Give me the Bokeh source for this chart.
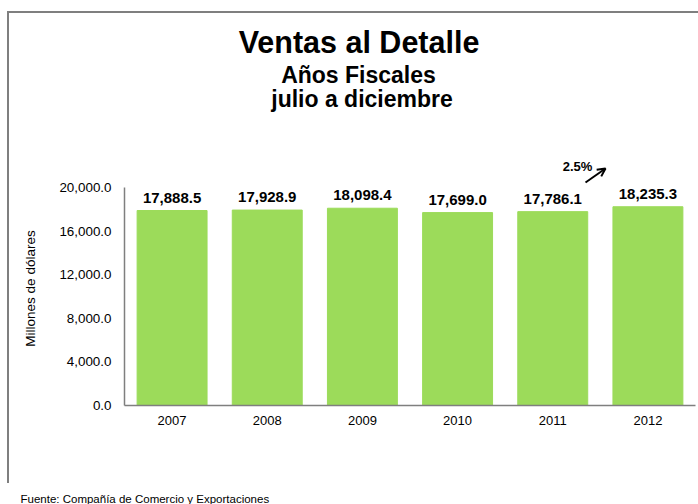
import math
from bokeh.plotting import figure
from bokeh.layouts import column, row
from bokeh.models import (ColumnDataSource, FactorRange, Range1d, FixedTicker,
                          NumeralTickFormatter, LabelSet, Label, Arrow, OpenHead)
from bokeh.core.properties import value
from bokeh.embed import file_html
from bokeh.resources import INLINE

# ---- data ----
years = ["2007", "2008", "2009", "2010", "2011", "2012"]
sales = [17888.5, 17928.9, 18098.4, 17699.0, 17786.1, 18235.3]
y_ticks = [0, 4000, 8000, 12000, 16000, 20000]
change_text = "2.5%"
title_lines = ["Ventas al Detalle", "Años Fiscales", "julio a diciembre"]
source_note = "Fuente: Compañía de Comercio y Exportaciones"
y_label = "Millones de dólares"

FONT = "Liberation Sans"
GRAY = "#7f7f7f"
GREEN = "#9cdb5a"
BORDER = "2px solid #7f7f7f"

# ---- layout constants (px) ----
MAIN_W, MAIN_H = 649, 422
LAB_W = 40
GAP_H = 48             # framed strip below the chart
NOTE_W, NOTE_H = 691, 21
FRAME_H = 392          # main frame: canvas top down to the x axis
AXIS_PX = 218          # px covered by 0 .. 20,000
y_top = y_ticks[-1] * FRAME_H / AXIS_PX

src = ColumnDataSource(data=dict(
    year=years,
    value=sales,
    label=["{:,.1f}".format(v) for v in sales],
))


def blank(width, height, **kw):
    f = figure(width=width, height=height, output_backend="svg",
               toolbar_location=None, x_range=Range1d(0, 1), y_range=Range1d(0, 1),
               x_axis_location=None, y_axis_location=None,
               min_border=0, **kw)
    f.outline_line_color = None
    f.grid.visible = False
    return f


# ---- main chart ----
p = figure(width=MAIN_W, height=MAIN_H, output_backend="svg", toolbar_location=None,
           x_range=FactorRange(factors=years, range_padding=0),
           y_range=Range1d(0, y_top),
           min_border_left=75, min_border_right=3,
           min_border_top=0, min_border_bottom=MAIN_H - FRAME_H)
p.outline_line_color = None
p.xgrid.grid_line_color = None
p.ygrid.grid_line_color = None

p.vbar(x="year", top="value", width=0.735, source=src,
       fill_color=GREEN, line_color=GREEN)

ya = p.yaxis[0]
ya.ticker = FixedTicker(ticks=y_ticks)
ya.bounds = (y_ticks[0], y_ticks[-1])
ya.formatter = NumeralTickFormatter(format="0,0.0")
ya.axis_line_color = GRAY
ya.axis_line_width = 1.5
ya.major_tick_line_color = None
ya.minor_tick_line_color = None
ya.major_tick_out = 0
ya.major_tick_in = 0
ya.major_label_standoff = 13
ya.major_label_text_font = FONT
ya.major_label_text_font_size = "13.4px"
ya.major_label_text_color = "black"

xa = p.xaxis[0]
xa.axis_line_color = GRAY
xa.axis_line_width = 1.5
xa.major_tick_line_color = None
xa.minor_tick_line_color = None
xa.major_tick_out = 0
xa.major_tick_in = 0
xa.major_label_standoff = 10
xa.major_label_text_font = FONT
xa.major_label_text_font_size = "13px"
xa.major_label_text_color = "black"

# value labels above the bars
p.add_layout(LabelSet(x="year", y="value", text="label", source=src,
                      text_align="center", text_baseline="middle",
                      y_offset=13, text_font=value(FONT), text_font_size="15px",
                      text_font_style="bold", text_color="black"))

# titles (screen units: relative to frame left / bottom)
title_specs = [(title_lines[0], 234.5, 364, "30.5px"),
               (title_lines[1], 234, 330.5, "23px"),
               (title_lines[2], 237.5, 307, "23px")]
for txt, xx, yy, fs in title_specs:
    p.add_layout(Label(x=xx, y=yy, x_units="screen", y_units="screen",
                       text=txt, text_align="center", text_baseline="middle",
                       text_font=FONT, text_font_size=fs, text_font_style="bold",
                       text_color="black"))

# growth annotation
p.add_layout(Label(x=453, y=239, x_units="screen", y_units="screen",
                   text=change_text, text_align="center", text_baseline="middle",
                   text_font=FONT, text_font_size="13px", text_font_style="bold",
                   text_color="black"))
p.add_layout(Arrow(x_start=461, y_start=223, x_end=481, y_end=237,
                   start_units="screen", end_units="screen",
                   line_color="black", line_width=2,
                   end=OpenHead(size=8, line_color="black", line_width=2)))

# ---- y axis title strip (its frame is aligned with the main frame) ----
ylab = blank(LAB_W, MAIN_H)
ylab.add_layout(Label(x=21, y=117, x_units="screen", y_units="screen",
                      text=y_label, angle=math.pi / 2,
                      text_align="center", text_baseline="middle",
                      text_font=FONT, text_font_size="13.5px", text_color="black"))

# ---- empty framed strip, then the source note ----
gap = blank(LAB_W + MAIN_W, GAP_H, styles={"border-left": BORDER})

note = blank(NOTE_W, NOTE_H)
note.add_layout(Label(x=13, y=6, x_units="screen", y_units="screen",
                      text=source_note, text_align="left", text_baseline="middle",
                      text_font=FONT, text_font_size="11.5px", text_color="black"))

layout = column(row(ylab, p, spacing=0, styles={"border-left": BORDER}),
                gap, note, spacing=0,
                margin=(11, 0, 0, 7),
                styles={"border-top": BORDER})

open("out.html", "w").write(file_html(layout, INLINE))
